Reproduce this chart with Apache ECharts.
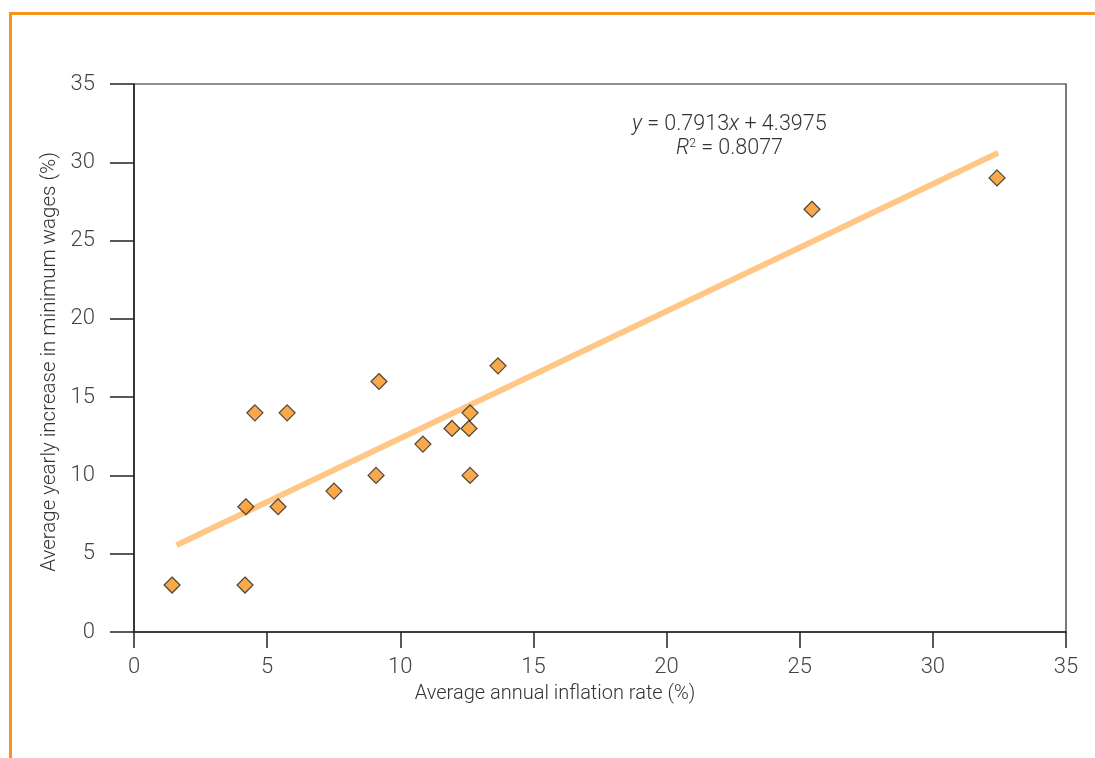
<!DOCTYPE html>
<html><head><meta charset="utf-8">
<script src="https://cdn.jsdelivr.net/npm/echarts@6/dist/echarts.min.js"></script>
<style>html,body{margin:0;padding:0;background:#fff;}#c{width:1095px;height:758px;}</style>
</head><body><div id="c"></div>
<script>
var inflation = [1.43, 4.17, 4.2, 4.54, 5.41, 5.75, 7.51, 9.09, 9.2, 10.85, 11.94, 12.58, 12.62, 12.62, 13.67, 25.46, 32.41];
var wageIncrease = [3, 3, 8, 14, 8, 14, 9, 10, 16, 12, 13, 13, 14, 10, 17, 27, 29];
var trendX = [1.6, 32.45];
var trendY = [5.55, 30.6];
var xTicks = [0, 5, 10, 15, 20, 25, 30, 35];
var yTicks = [0, 5, 10, 15, 20, 25, 30, 35];
var xTitle = 'Average annual inflation rate (%)';
var yTitle = 'Average yearly increase in minimum wages (%)';

var font = 'Roboto';
var chart = echarts.init(document.getElementById('c'));
var pts = inflation.map(function (v, i) { return [v, wageIncrease[i]]; });
var trend = trendX.map(function (v, i) { return [v, trendY[i]]; });
chart.setOption({
  animation: false,
  backgroundColor: '#fff',
  grid: { left: 134, top: 84, right: 29, bottom: 126, show: true, borderColor: '#222', borderWidth: 1.2 },
  xAxis: {
    type: 'value', min: xTicks[0], max: xTicks[xTicks.length - 1], interval: xTicks[1] - xTicks[0],
    axisLine: { show: true, lineStyle: { color: '#222', width: 1.5 } },
    axisTick: { show: true, length: 16, lineStyle: { color: '#222', width: 1.5 } },
    axisLabel: { margin: 24, fontFamily: font, fontWeight: 300, fontSize: 22, color: '#444' },
    splitLine: { show: false }
  },
  yAxis: {
    type: 'value', min: yTicks[0], max: yTicks[yTicks.length - 1], interval: yTicks[1] - yTicks[0],
    axisLine: { show: true, lineStyle: { color: '#222', width: 1.5 } },
    axisTick: { show: true, length: 24, lineStyle: { color: '#222', width: 1.5 } },
    axisLabel: { margin: 39, fontFamily: font, fontWeight: 300, fontSize: 22, color: '#444' },
    splitLine: { show: false }
  },
  series: [
    {
      type: 'line', data: trend, symbol: 'none', z: 1,
      lineStyle: { color: '#FFC685', width: 6, cap: 'butt' }
    },
    {
      type: 'scatter', data: pts, symbol: 'diamond', symbolSize: [16, 16], z: 3,
      itemStyle: { color: '#F7941D', borderColor: '#222', borderWidth: 1.2 }
    }
  ],
  graphic: [
    { type: 'rect', left: 9, top: 12, shape: { width: 1090, height: 3 }, style: { fill: '#F7941D' }, silent: true },
    { type: 'rect', left: 9, top: 12, shape: { width: 3, height: 750 }, style: { fill: '#F7941D' }, silent: true },
    {
      type: 'text', x: 555, y: 694,
      style: { text: xTitle, font: '300 20px ' + font, fill: '#333', align: 'center', verticalAlign: 'middle' }
    },
    {
      type: 'text', x: 50, y: 362, rotation: Math.PI / 2,
      style: { text: yTitle, font: '300 20.5px ' + font, fill: '#333', align: 'center', verticalAlign: 'middle' }
    },
    {
      type: 'text', left: 632, top: 114,
      style: {
        text: '{i|y} = 0.7913{i|x} + 4.3975',
        rich: { i: { fontStyle: 'italic', fontFamily: font, fontWeight: 300, fontSize: 21.5, fill: '#333' } },
        font: '300 21.5px ' + font, fill: '#333'
      }
    },
    {
      type: 'text', left: 676, top: 138,
      style: {
        text: '{i|R}{s|2} = 0.8077',
        rich: {
          i: { fontStyle: 'italic', fontFamily: font, fontWeight: 300, fontSize: 21.5, fill: '#333' },
          s: { fontFamily: font, fontWeight: 300, fontSize: 12, fill: '#333', verticalAlign: 'top', padding: [0, 0, 9, 0] }
        },
        font: '300 21.5px ' + font, fill: '#333'
      }
    }
  ]
});
</script></body></html>
